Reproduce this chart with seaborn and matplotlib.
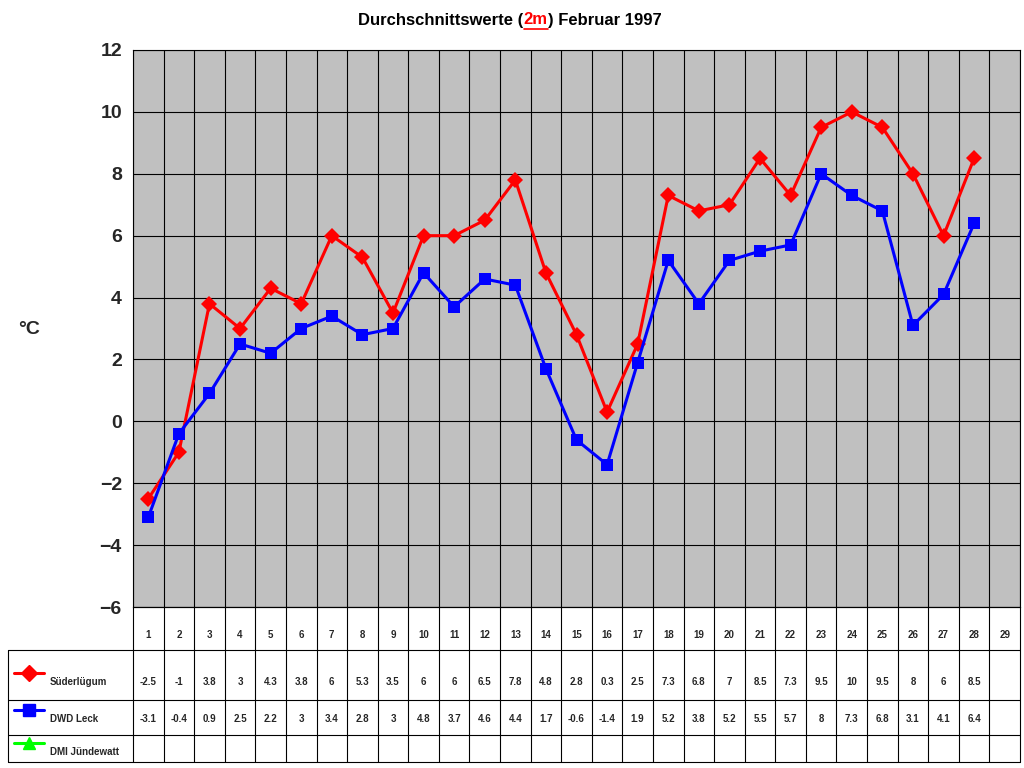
import matplotlib
matplotlib.use("Agg")
import matplotlib.pyplot as plt
import seaborn as sns
import numpy as np
import pandas as pd

days = list(range(1, 30))
suederluegum = [-2.5, -1, 3.8, 3, 4.3, 3.8, 6, 5.3, 3.5, 6, 6, 6.5, 7.8, 4.8, 2.8, 0.3,
                2.5, 7.3, 6.8, 7, 8.5, 7.3, 9.5, 10, 9.5, 8, 6, 8.5]
dwd_leck = [-3.1, -0.4, 0.9, 2.5, 2.2, 3, 3.4, 2.8, 3, 4.8, 3.7, 4.6, 4.4, 1.7, -0.6, -1.4,
            1.9, 5.2, 3.8, 5.2, 5.5, 5.7, 8, 7.3, 6.8, 3.1, 4.1, 6.4]
series_names = ["Süderlügum", "DWD Leck", "DMI Jündewatt"]
series_colors = ["#ff0000", "#0000ff", "#00ff00"]
series_markers = ["D", "s", "^"]

sns.set_style("white")
plt.rcParams["font.family"] = ["Liberation Sans", "DejaVu Sans"]

W, H = 1024, 768
fig = plt.figure(figsize=(10.24, 7.68), dpi=100)

# main plot area (pixel coords 133..1020 x 50..607)
x0, x1, y0, y1 = 133, 1020, 50, 607
ax = fig.add_axes([x0 / W, 1 - y1 / H, (x1 - x0) / W, (y1 - y0) / H])
ax.set_facecolor("#c0c0c0")
df = pd.DataFrame({
    "x": np.arange(len(suederluegum)) + 0.5,
    series_names[0]: suederluegum,
    series_names[1]: dwd_leck,
})
sns.lineplot(data=df, x="x", y=series_names[0], ax=ax, color=series_colors[0],
             marker=series_markers[0], markersize=8, linewidth=2.2, markeredgewidth=0)
sns.lineplot(data=df, x="x", y=series_names[1], ax=ax, color=series_colors[1],
             marker=series_markers[1], markersize=9, linewidth=2.2, markeredgewidth=0)
ax.set_xlim(0, 29)
ax.set_ylim(-6, 12)
ax.set_yticks(range(-6, 13, 2))
ax.set_xticks(range(0, 30))
ax.set_xticklabels([])
ax.grid(True, color="black", linewidth=0.8)
ax.set_axisbelow(True)
ax.tick_params(axis="y", labelsize=14, length=0, pad=8)
for lab in ax.get_yticklabels():
    lab.set_fontweight("bold")
ax.tick_params(axis="x", length=0)
ax.set_xlabel("")
ax.set_ylabel("")
for s in ax.spines.values():
    s.set_color("black")
fig.text(18 / W, 1 - 330 / H, "°C", fontsize=14, fontweight="bold", va="center")

# data table below the plot
tab = fig.add_axes([0, 0, 1, 1], facecolor="none")
tab.set_xlim(0, W)
tab.set_ylim(H, 0)
tab.axis("off")
cw = (x1 - x0) / 29
rows = [607, 650, 700, 735, 762]
for i in range(30):
    xx = x0 + i * cw
    tab.plot([xx, xx], [607, 762], color="black", lw=0.8)
tab.plot([8, 8], [650, 762], color="black", lw=0.8)
tab.plot([x0, x1], [607, 607], color="black", lw=0.8)
for r in rows[1:]:
    tab.plot([8, x1], [r, r], color="black", lw=0.8)
for i, d in enumerate(days):
    tab.text(x0 + (i + 0.5) * cw, 635, str(d), ha="center", va="center", fontsize=7, fontweight="bold")
data_rows = [suederluegum, dwd_leck, []]
row_y = [682, 719, 752]
for k, name in enumerate(series_names):
    yy = row_y[k]
    tab.plot([14, 44], [yy - 9, yy - 9], color=series_colors[k], lw=2.2)
    tab.plot([29], [yy - 9], marker=series_markers[k], color=series_colors[k], markersize=8 if k != 1 else 9)
    tab.text(50, yy, name, ha="left", va="center", fontsize=7, fontweight="bold")
    for i, v in enumerate(data_rows[k]):
        tab.text(x0 + (i + 0.5) * cw, yy, f"{v:g}", ha="center", va="center", fontsize=7, fontweight="bold")

# title with red underlined "2m"
parts = [("Durchschnittswerte (", "black"), ("2m", "red"), (") Februar 1997", "black")]
renderer = fig.canvas.get_renderer()
widths = []
for txt, c in parts:
    t = fig.text(0, 0, txt, fontsize=12, fontweight="bold")
    widths.append(t.get_window_extent(renderer).width)
    t.remove()
xs = 510 - sum(widths) / 2
for (txt, c), w in zip(parts, widths):
    fig.text(xs / W, 1 - 20 / H, txt, fontsize=12, fontweight="bold", color=c, va="center")
    if c == "red":
        tab.plot([xs, xs + w], [29, 29], color="red", lw=1.2)
    xs += w

fig.savefig("out.png", dpi=100, facecolor="white")
